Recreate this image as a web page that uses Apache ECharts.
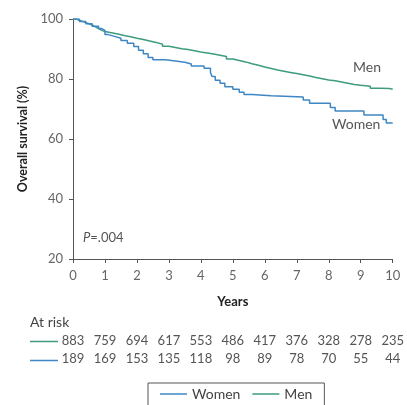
<!DOCTYPE html>
<html>
<head>
<meta charset="utf-8">
<script src="https://cdn.jsdelivr.net/npm/echarts@6/dist/echarts.min.js"></script>
<style>
html,body{margin:0;padding:0;background:#fff;}
#chart{width:407px;height:405px;}
</style>
</head>
<body>
<div id="chart"></div>
<script>
// Kaplan-Meier curves (step points: year, survival %)
var menYears = [0,0.1,0.2,0.3,0.4,0.5,0.6,0.7,0.8,0.9,1.0,1.2,1.4,1.6,1.8,2.0,2.2,2.4,2.6,2.8,3.0,3.2,3.4,3.6,3.8,4.0,4.2,4.4,4.6,4.8,5.0,5.2,5.4,5.6,5.8,6.0,6.2,6.4,6.6,6.8,7.0,7.2,7.4,7.6,7.8,8.0,8.2,8.4,8.6,8.8,9.0,9.3,9.6,9.9,10];
var menSurv  = [100,99.6,99.2,98.8,98.4,98.0,97.4,96.8,96.2,95.8,95.4,95.0,94.5,94.1,93.6,93.2,92.7,92.2,91.6,90.9,90.5,90.1,89.8,89.4,89.0,88.7,88.3,87.9,87.5,86.7,86.2,85.7,85.1,84.6,84.0,83.5,83.0,82.6,82.2,81.8,81.4,81.0,80.5,80.1,79.7,79.4,79.0,78.6,78.2,77.9,77.6,76.9,76.8,76.6,76.6];
var womenYears = [0,0.2,0.4,0.6,0.8,0.9,1.0,1.1,1.3,1.5,1.7,1.9,2.05,2.2,2.35,2.5,2.9,3.2,3.5,3.7,4.1,4.3,4.35,4.45,4.6,4.75,5.0,5.2,5.35,5.6,6.2,7.2,7.4,8.05,8.2,9.1,9.7,9.8,10];
var womenSurv  = [100,99.2,98.4,97.6,96.8,96.2,94.8,94.2,93.6,92.8,91.9,90.8,89.6,88.4,87.2,86.4,86.0,85.6,85.0,84.3,83.6,82.2,80.8,79.6,78.6,77.4,76.6,75.6,74.8,74.4,74.0,73.0,71.9,70.5,69.3,68.0,66.5,65.3,65.3];

var yearTicks = [0,1,2,3,4,5,6,7,8,9,10];
var menAtRisk   = [883,759,694,617,553,486,417,376,328,278,235];
var womenAtRisk = [189,169,153,135,118,98,89,78,70,55,44];

var MEN_C = '#3d9b80';
var WOMEN_C = '#3f87c4';
var FONT = 'Lato';

function pairs(xs, ys){ return xs.map(function(x,i){ return [x, ys[i]]; }); }

var chart = echarts.init(document.getElementById('chart'), null, {renderer:'canvas'});

function riskAxis(values, offset){
  return {
    type:'value', min:0, max:10, interval:1, position:'bottom', offset:offset,
    axisLine:{show:false}, axisTick:{show:false}, splitLine:{show:false},
    axisLabel:{margin:0, color:'#555', fontFamily:FONT, fontSize:13,
      formatter:function(v){ var i = yearTicks.indexOf(Math.round(v)); return i>=0 ? String(values[i]) : ''; }}
  };
}

chart.setOption({
  animation:false,
  textStyle:{fontFamily:FONT},
  grid:{left:73, right:10, top:19, bottom:146, containLabel:false},
  xAxis:[{
    type:'value', min:0, max:10, interval:1,
    name:'Years', nameLocation:'middle', nameGap:36,
    nameTextStyle:{fontFamily:FONT, fontWeight:'bold', fontSize:13, color:'#222'},
    axisLine:{show:true, onZero:false, lineStyle:{color:'#555', width:1}},
    axisTick:{show:true, inside:false, length:4, lineStyle:{color:'#555'}},
    axisLabel:{margin:10, color:'#666', fontFamily:FONT, fontSize:13},
    splitLine:{show:false}
  }, riskAxis(menAtRisk, 75), riskAxis(womenAtRisk, 93)],
  yAxis:{
    type:'value', min:20, max:100, interval:20,
    name:'Overall survival (%)', nameLocation:'middle', nameGap:41, nameRotate:90,
    nameTextStyle:{fontFamily:FONT, fontWeight:'bold', fontSize:12.5, color:'#222'},
    axisLine:{show:true, onZero:false, lineStyle:{color:'#555', width:1}},
    axisTick:{show:true, inside:false, length:4, lineStyle:{color:'#555'}},
    axisLabel:{margin:10, color:'#666', fontFamily:FONT, fontSize:13},
    splitLine:{show:false}
  },
  legend:{
    data:['Women','Men'], left:148, top:383,
    padding:[4,12,30,12], itemGap:12, itemWidth:27, itemHeight:1.5,
    icon:'rect', borderColor:'#555', borderWidth:1,
    textStyle:{fontFamily:FONT, fontSize:14, color:'#444'}
  },
  series:[
    {name:'Men', type:'line', step:'end', showSymbol:false, xAxisIndex:0,
     lineStyle:{color:MEN_C, width:1.5}, itemStyle:{color:MEN_C},
     data:pairs(menYears, menSurv)},
    {name:'Women', type:'line', step:'end', showSymbol:false, xAxisIndex:0,
     lineStyle:{color:WOMEN_C, width:1.5}, itemStyle:{color:WOMEN_C},
     data:pairs(womenYears, womenSurv)}
  ],
  graphic:[
    {type:'text', left:353, top:60, style:{text:'Men', font:'14px Lato', fill:'#555'}},
    {type:'text', left:332, top:117, style:{text:'Women', font:'14px Lato', fill:'#555'}},
    {type:'text', left:83, top:231, style:{text:'{i|P}=.004', font:'13px Lato', fill:'#555',
      rich:{i:{fontStyle:'italic', fontSize:13, fontFamily:FONT, fill:'#555'}}}},
    {type:'text', left:30, top:315, style:{text:'At risk', font:'14px Lato', fill:'#444'}},
    {type:'line', shape:{x1:30, y1:341.5, x2:58, y2:341.5}, style:{stroke:MEN_C, lineWidth:1.5}},
    {type:'line', shape:{x1:30, y1:360.5, x2:58, y2:360.5}, style:{stroke:WOMEN_C, lineWidth:1.5}}
  ]
});
</script>
</body>
</html>
